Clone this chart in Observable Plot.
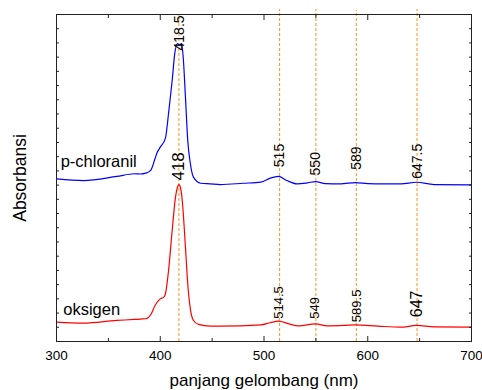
<!DOCTYPE html>
<html>
<head>
<meta charset="utf-8">
<script src="https://cdn.jsdelivr.net/npm/d3@7"></script>
<script src="https://cdn.jsdelivr.net/npm/@observablehq/plot@0.6"></script>
<style>
  html, body { margin: 0; padding: 0; background: #fff; }
  #chart svg { display: block; }
</style>
</head>
<body>
<div id="chart"></div>
<script>
// p-chloranil spectrum (blue)
const wlBlue = [300,326,358,375,381,386,391,395,397,400,405,408,411.5,414,416.5,418.5,420.5,422,424.3,426.5,429,432,439,448,458,480,497,506,514,522,532,542,550,559,574,588,600,615,632,647,664,700];
const absBlue = [1.144,1.132,1.161,1.180,1.178,1.184,1.206,1.287,1.329,1.367,1.431,1.604,1.836,2.026,2.096,2.085,2.096,2.012,1.718,1.414,1.252,1.156,1.113,1.109,1.104,1.113,1.121,1.149,1.161,1.132,1.109,1.116,1.125,1.111,1.109,1.118,1.111,1.109,1.109,1.120,1.104,1.102];

// oksigen spectrum (red)
const wlRed = [300,326,358,375,381,386,391,395,397,400,403.5,405,408,411.5,414.7,416.5,418,419.5,421.2,424.3,426.5,429,432,437,448,458,497,506,514,524,533.5,549.5,561,577,588,610,632,647,664,700];
const absRed = [0.136,0.129,0.148,0.155,0.158,0.160,0.190,0.253,0.276,0.300,0.312,0.336,0.499,0.781,1.015,1.083,1.104,1.083,0.992,0.663,0.406,0.230,0.148,0.120,0.108,0.108,0.117,0.132,0.143,0.124,0.110,0.124,0.110,0.113,0.117,0.108,0.101,0.113,0.103,0.101];

// dashed peak guide lines
const peakLines = [418, 515, 550, 589, 647.5];
const peakLineTop = [2.3, 2.335, 2.335, 2.33, 2.335];

// peak labels
const blueLabelText = ["418.5", "515", "550", "589", "647.5"];
const blueLabelX = [418.5, 515, 550, 589, 647.5];
const blueLabelY = [2.047, 1.226, 1.168, 1.208, 1.144];

const redLabelText = ["418", "514.5", "549", "589.5", "647"];
const redLabelX = [418, 514.5, 549, 589.5, 647];
const redLabelY = [1.132, 0.160, 0.160, 0.136, 0.171];
const redLabelSize = [17, 13, 13, 13, 16];

// series names
const seriesNames = ["p-chloranil", "oksigen"];
const seriesNameX = [304, 306.5];
const seriesNameY = [1.226, 0.183];

// axes
const xMajorTicks = [300, 400, 500, 600, 700];
const xMinorTicks = [350, 450, 550, 650];
const yTicks = d3.range(0, 24).map(i => +(i * 0.1).toFixed(1));
const xLabel = "panjang gelombang (nm)";
const yLabel = "Absorbansi";

const blue = wlBlue.map((w, i) => ({wl: w, abs: absBlue[i]}));
const red = wlRed.map((w, i) => ({wl: w, abs: absRed[i]}));
const lines = peakLines.map((w, i) => ({wl: w, top: peakLineTop[i]}));
const blueLabels = blueLabelText.map((t, i) => ({t, x: blueLabelX[i], y: blueLabelY[i]}));
const redLabels = redLabelText.map((t, i) => ({t, x: redLabelX[i], y: redLabelY[i], s: redLabelSize[i]}));
const names = seriesNames.map((t, i) => ({t, x: seriesNameX[i], y: seriesNameY[i]}));

const noText = () => "";

const chart = Plot.plot({
  width: 482,
  height: 390,
  marginLeft: 56,
  marginRight: 11,
  marginTop: 14,
  marginBottom: 49,
  x: {domain: [300, 700], label: null},
  y: {domain: [0, 2.3], label: null},
  style: {fontFamily: "'Liberation Sans', Arial, sans-serif", background: "#fff", color: "#000"},
  marks: [
    Plot.ruleX(lines, {x: "wl", y1: 0, y2: "top", stroke: "#ff9a33", strokeWidth: 1.1, strokeDasharray: "3,2"}),
    Plot.line(blue, {x: "wl", y: "abs", stroke: "#0000ff", strokeWidth: 1.2, curve: "monotone-x"}),
    Plot.line(red, {x: "wl", y: "abs", stroke: "#ff0000", strokeWidth: 1.2, curve: "monotone-x"}),
    Plot.frame({stroke: "#222"}),
    Plot.axisX({ticks: xMajorTicks, tickSize: -5, tickPadding: 14, fontSize: 13.5, label: null, stroke: "#222"}),
    Plot.axisX({ticks: xMinorTicks, tickSize: -3, tickFormat: noText, label: null, stroke: "#222"}),
    Plot.axisX({anchor: "top", ticks: xMajorTicks, tickSize: -5, tickFormat: noText, label: null, stroke: "#222"}),
    Plot.axisX({anchor: "top", ticks: xMinorTicks, tickSize: -3, tickFormat: noText, label: null, stroke: "#222"}),
    Plot.axisY({ticks: yTicks, tickSize: -3, tickFormat: noText, label: null, stroke: "#222"}),
    Plot.axisY({anchor: "right", ticks: yTicks, tickSize: -3, tickFormat: noText, label: null, stroke: "#222"}),
    Plot.text(blueLabels, {x: "x", y: "y", text: "t", rotate: -90, textAnchor: "start", fontSize: 14, fill: "#000"}),
    Plot.text(redLabels, {x: "x", y: "y", text: "t", rotate: -90, textAnchor: "start", fontSize: "s", fill: "#000"}),
    Plot.text(names, {x: "x", y: "y", text: "t", textAnchor: "start", lineAnchor: "bottom", fontSize: 16.5, fill: "#000"}),
    Plot.text([xLabel], {frameAnchor: "bottom", dy: 44, textAnchor: "middle", lineAnchor: "bottom", fontSize: 17, fill: "#000"}),
    Plot.text([yLabel], {frameAnchor: "left", rotate: -90, dx: -31, textAnchor: "middle", lineAnchor: "bottom", fontSize: 17.5, fill: "#000"})
  ]
});
document.getElementById("chart").appendChild(chart);
</script>
</body>
</html>
